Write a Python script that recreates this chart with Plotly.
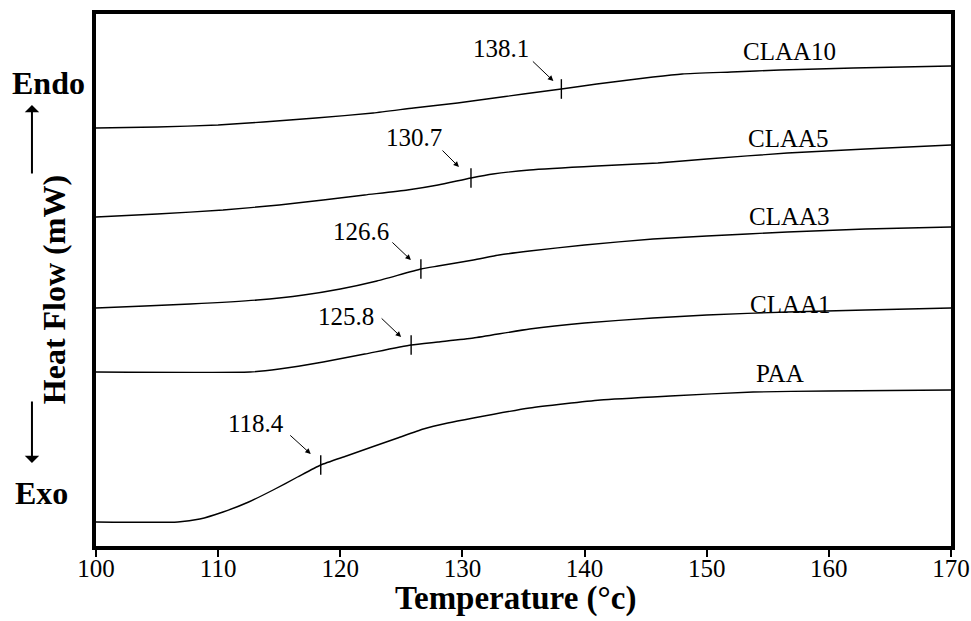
import numpy as np
import plotly.graph_objects as go

# ---------------- data (heat flow in arbitrary units, curves offset) ----------------
series_names = ["CLAA10", "CLAA5", "CLAA3", "CLAA1", "PAA"]

temp_claa10 = [100, 105, 110, 113.7, 118, 122.7, 126, 129.6, 132, 135, 138.1, 141, 145.6, 148, 152, 156, 162, 170]
hf_claa10 = [418, 419, 421, 424, 428, 433, 438, 443, 447, 452, 457, 462, 469, 472, 474, 476, 478, 480]

temp_claa5 = [100, 105, 110.4, 115, 118.6, 122, 125.5, 128, 130.7, 132.5, 135.5, 141, 146, 150, 156.6, 163, 170]
hf_claa5 = [329, 332, 336, 341, 346, 351, 356, 361, 368, 372, 376, 380, 383, 387, 393, 397, 401]

temp_claa3 = [100, 104, 107.7, 113.2, 117, 120, 123, 126.6, 128, 130.9, 133, 135.5, 140, 145.6, 150, 156.6, 163, 170]
hf_claa3 = [238, 240, 242, 246, 251, 257, 265, 277, 280, 286, 291, 295, 301, 307, 310, 314, 317, 319]

temp_claa1 = [100, 112.6, 115, 118.6, 122, 125.8, 128, 130.9, 135.5, 140, 145.6, 150, 156.6, 163, 170]
hf_claa1 = [174, 174, 177, 184, 192, 201, 204, 208, 217, 223, 228, 231, 234, 236, 238]

temp_paa = [100, 106.7, 108.5, 110.4, 112.5, 114.5, 116.5, 118.4, 120.5, 122.7, 124.7, 126.8, 128.8, 130.9, 135.5, 141.3, 147, 153.8, 160, 170]
hf_paa = [24, 24, 27, 34, 44, 56, 69, 81, 90, 99.5, 108, 117, 123, 128, 138, 146, 150, 154, 155, 156]

tg_values = [138.1, 130.7, 126.6, 125.8, 118.4]
tg_labels = ["138.1", "130.7", "126.6", "125.8", "118.4"]

x_tick_values = [100, 110, 120, 130, 140, 150, 160, 170]

temps = [temp_claa10, temp_claa5, temp_claa3, temp_claa1, temp_paa]
flows = [hf_claa10, hf_claa5, hf_claa3, hf_claa1, hf_paa]

# ---------------- figure ----------------
FONT = "Liberation Serif"
fig = go.Figure()

for name, t, h in zip(series_names, temps, flows):
    fig.add_trace(go.Scatter(x=t, y=h, mode="lines", name=name,
                             line=dict(color="black", width=1.4, shape="spline", smoothing=0.5),
                             showlegend=False, hoverinfo="skip"))

tg_y = [float(np.interp(tg, t, h)) for tg, t, h in zip(tg_values, temps, flows)]
fig.add_trace(go.Scatter(x=tg_values, y=tg_y, mode="markers",
                         marker=dict(symbol="line-ns", size=14, line=dict(color="black", width=1.4)),
                         showlegend=False, hoverinfo="skip"))

annotations = []
# arrows (head shift from tick, tail offset from head) and label offsets, in pixels
arrow_head_shift = [(-8, 8), (-12, 11), (-10, 9), (-10, 8), (-10, 11)]
arrow_tail = [(-22, -21), (-18, -18), (-20, -19), (-21, -20), (-22, -20)]
text_shift = [(-60, 41), (-57, 41), (-60, 38), (-65, 29), (-65, 42)]
for tg, ty, lab, hs, tl, ts in zip(tg_values, tg_y, tg_labels, arrow_head_shift, arrow_tail, text_shift):
    annotations.append(dict(x=tg, y=ty, xref="x", yref="y", text="", showarrow=True,
                            xshift=hs[0], yshift=hs[1], ax=tl[0], ay=tl[1],
                            arrowhead=2, arrowsize=1.1, arrowwidth=1, arrowcolor="black"))
    annotations.append(dict(x=tg, y=ty, xref="x", yref="y", text=lab, showarrow=False,
                            xshift=ts[0], yshift=ts[1], xanchor="center", yanchor="middle",
                            font=dict(family=FONT, size=25, color="black")))

# series labels near the right end of each curve
label_x = [156.8, 156.7, 156.8, 156.9, 156.0]
label_yshift = [18, 14, 15, 7, 18]
for name, t, h, lx, ys in zip(series_names, temps, flows, label_x, label_yshift):
    annotations.append(dict(x=lx, y=float(np.interp(lx, t, h)), xref="x", yref="y",
                            text=name, showarrow=False, yshift=ys,
                            xanchor="center", yanchor="middle",
                            font=dict(family=FONT, size=25, color="black")))

# axis titles, Endo / Exo, arrows
annotations += [
    dict(x=-0.049, y=0.481, xref="paper", yref="paper", text="<b>Heat Flow (mW)</b>",
         textangle=-90, showarrow=False, xanchor="center", yanchor="middle",
         font=dict(family=FONT, size=32, color="black")),
    dict(x=0.491, y=-0.098, xref="paper", yref="paper", text="<b>Temperature (°c)</b>",
         showarrow=False, xanchor="center", yanchor="middle",
         font=dict(family=FONT, size=33, color="black")),
    dict(x=-0.056, y=0.870, xref="paper", yref="paper", text="<b>Endo</b>",
         showarrow=False, xanchor="center", yanchor="middle",
         font=dict(family=FONT, size=32, color="black")),
    dict(x=-0.064, y=0.0996, xref="paper", yref="paper", text="<b>Exo</b>",
         showarrow=False, xanchor="center", yanchor="middle",
         font=dict(family=FONT, size=32, color="black")),
    dict(x=-0.0749, y=0.829, xref="paper", yref="paper", text="", showarrow=True,
         ax=0, ay=70, arrowhead=1, arrowsize=1.2, arrowwidth=2, arrowcolor="black"),
    dict(x=-0.0749, y=0.156, xref="paper", yref="paper", text="", showarrow=True,
         ax=0, ay=-63, arrowhead=1, arrowsize=1.2, arrowwidth=2, arrowcolor="black"),
]

fig.update_layout(
    template="none",
    width=971, height=621,
    margin=dict(l=96, r=20, t=14, b=75, pad=0),
    paper_bgcolor="white", plot_bgcolor="white",
    font=dict(family=FONT, color="black"),
    annotations=annotations,
    xaxis=dict(range=[100, 170], tickvals=x_tick_values, ticks="outside", ticklen=7,
               tickwidth=2, tickcolor="black", showgrid=False, zeroline=False,
               showline=True, linecolor="black", linewidth=4, mirror=True,
               automargin=False, ticklabelstandoff=-10,
               tickfont=dict(family=FONT, size=25, color="black")),
    yaxis=dict(range=[0, 532], showticklabels=False, ticks="", showgrid=False,
               zeroline=False, showline=True, linecolor="black", linewidth=4, mirror=True,
               automargin=False),
)

# remove the default page margin so the 971x621 figure fills the window exactly
fig.write_html("out.html",
               config={"displayModeBar": False},
               post_script="document.body.style.margin='0';document.body.style.overflow='hidden';")
